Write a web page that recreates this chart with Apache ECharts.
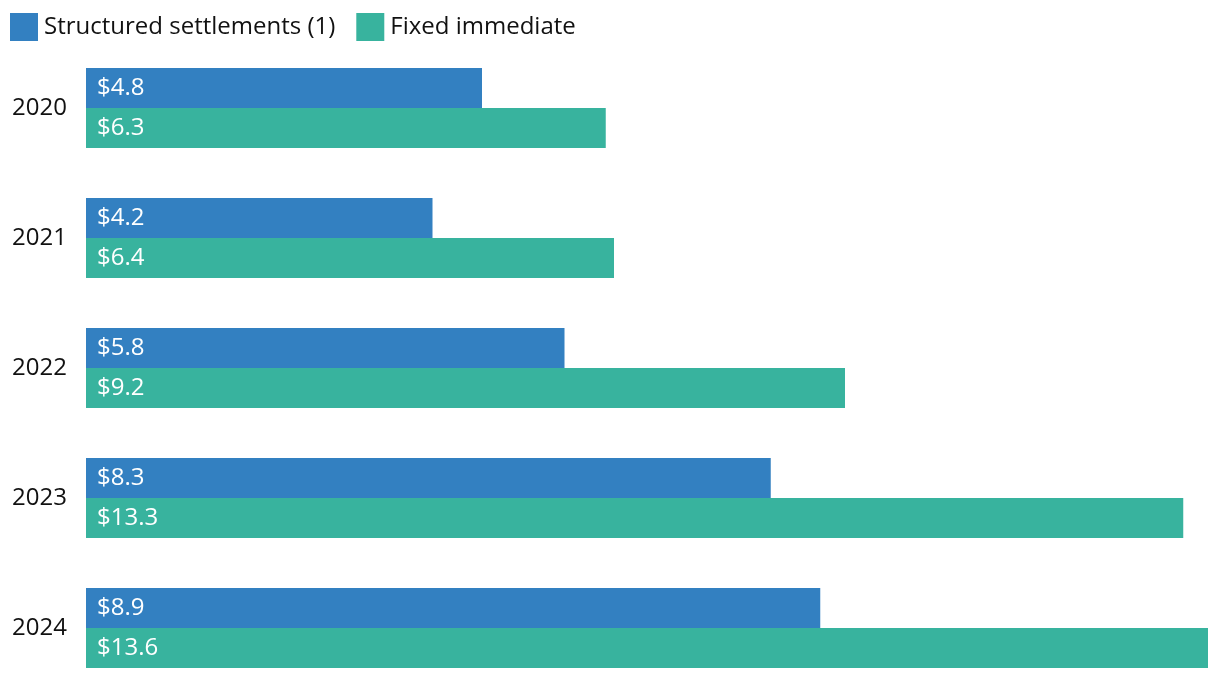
<!DOCTYPE html>
<html><head><meta charset="utf-8">
<script src="https://cdn.jsdelivr.net/npm/echarts@6/dist/echarts.min.js"></script>
<style>html,body{margin:0;padding:0;background:#fff;overflow:hidden}#c{width:1220px;height:720px}</style>
</head><body><div id="c"></div>
<script>
const categories = ['2020','2021','2022','2023','2024'];
const structured = [4.8, 4.2, 5.8, 8.3, 8.9];
const fixedImmediate = [6.3, 6.4, 9.2, 13.3, 13.6];
const seriesNames = ['Structured settlements (1)', 'Fixed immediate'];
const colors = ['#3380C1', '#38B39E'];
const font = '"Open Sans", "Noto Sans", sans-serif';
const chart = echarts.init(document.getElementById('c'));
const lbl = {show:true, position:'insideLeft', distance:11, color:'#fff', fontSize:24, fontFamily:font, formatter: p => '$' + p.value.toFixed(1)};
chart.setOption({
  animation:false,
  legend:{left:10, top:13, padding:0, itemWidth:28, itemHeight:28, itemGap:21, icon:'rect',
    textStyle:{fontSize:24, fontFamily:font, color:'#111', padding:[0,0,0,1]}, data:seriesNames},
  grid:{left:86, top:43, width:1122, height:650, containLabel:false},
  xAxis:{type:'value', min:0, max:13.6, show:false},
  yAxis:{type:'category', data:categories, inverse:true,
    axisLine:{show:false}, axisTick:{show:false},
    axisLabel:{margin:19, fontSize:24, fontFamily:font, color:'#111'}},
  series:[
    {name:seriesNames[0], type:'bar', data:structured, barWidth:40, barGap:'0%', itemStyle:{color:colors[0]}, label:lbl},
    {name:seriesNames[1], type:'bar', data:fixedImmediate, barWidth:40, barGap:'0%', itemStyle:{color:colors[1]}, label:lbl}
  ]
});
</script></body></html>
